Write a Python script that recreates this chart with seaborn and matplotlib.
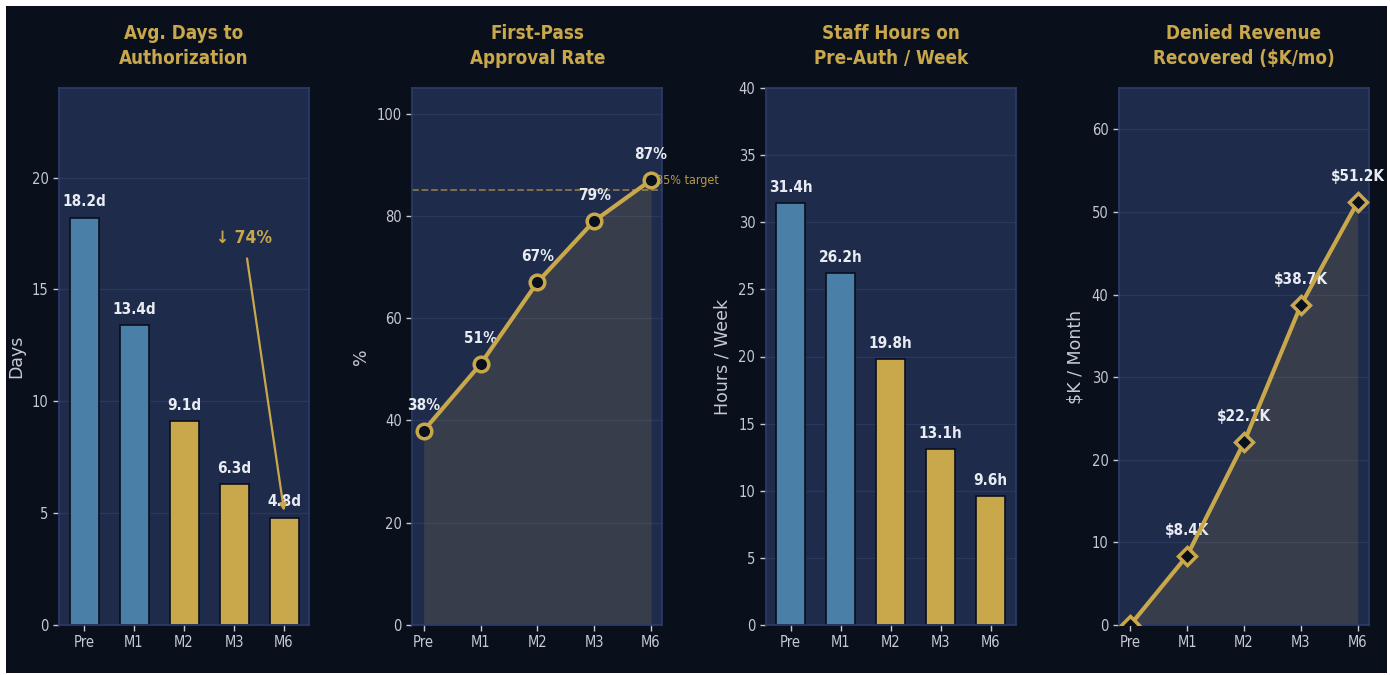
import matplotlib
matplotlib.use('Agg')
import matplotlib.pyplot as plt
import seaborn as sns
import numpy as np
import pandas as pd
from matplotlib.patches import Rectangle

# DATA
periods = ['Pre', 'M1', 'M2', 'M3', 'M6']
days_to_auth = [18.2, 13.4, 9.1, 6.3, 4.8]
approval_rate = [38, 51, 67, 79, 87]
staff_hours = [31.4, 26.2, 19.8, 13.1, 9.6]
revenue_recovered = [0.0, 8.4, 22.1, 38.7, 51.2]
approval_target = 85
days_drop_label = '↓ 74%'

titles = ['Avg. Days to\nAuthorization', 'First-Pass\nApproval Rate',
          'Staff Hours on\nPre-Auth / Week', 'Denied Revenue\nRecovered ($K/mo)']
ylabels = ['Days', '%', 'Hours / Week', '$K / Month']
ylims = [24, 105, 40, 65]

# STYLE
BG = '#0a0f1c'
PANEL = '#1f2b4b'
SPINE = '#2b3c6a'
GRID = '#2a385e'
GOLD = '#c9a84c'
BLUE = '#4a7fa7'
TXT = '#e8ecf2'
TICK = '#c4cad4'

sns.set_theme(style='dark')
plt.rcParams['font.family'] = ['DejaVu Sans']
plt.rcParams['font.stretch'] = 'condensed'

fig, axes = plt.subplots(1, 4, figsize=(13.9, 6.75), dpi=100)
fig.patch.set_facecolor('white')
fig.patches.append(Rectangle((6 / 1390, 2 / 675), 1 - 9 / 1390, 1 - 8 / 675,
                             transform=fig.transFigure, facecolor=BG,
                             edgecolor='none', zorder=-10))
fig.subplots_adjust(left=59 / 1390, right=1369 / 1390, top=1 - 88 / 675,
                    bottom=1 - 625 / 675, wspace=0.413)

bar_colors = [BLUE, BLUE, GOLD, GOLD, GOLD]
xpos = np.arange(len(periods))


def style_axis(ax, i):
    ax.set_facecolor(PANEL)
    for s in ax.spines.values():
        s.set_visible(True)
        s.set_color(SPINE)
        s.set_linewidth(1.2)
    ax.grid(axis='y', color=GRID, linewidth=0.9)
    ax.grid(axis='x', visible=False)
    ax.set_axisbelow(True)
    ax.tick_params(colors=TICK, labelsize=10.5, length=4, width=1,
                   bottom=True, left=True)
    ax.set_title(titles[i], color=GOLD, fontsize=13.5, fontweight='bold',
                 pad=17, linespacing=1.4)
    ax.set_ylabel(ylabels[i], color=TICK, fontsize=12.5, fontstretch='normal',
                  labelpad=5)
    ax.set_xlabel('')
    ax.set_ylim(0, ylims[i])


def bar_panel(ax, values, suffix, i):
    df = pd.DataFrame({'period': periods, 'value': values})
    sns.barplot(data=df, x='period', y='value', hue='period', palette=bar_colors,
                legend=False, width=0.58, edgecolor=BG, linewidth=1.2,
                saturation=1, ax=ax)
    for x, v in zip(xpos, values):
        ax.annotate(f'{v}{suffix}', (x, v), xytext=(0, 6),
                    textcoords='offset points', ha='center', va='bottom',
                    color=TXT, fontsize=11, fontweight='bold')
    style_axis(ax, i)


def line_panel(ax, values, marker, fmt, i, ms):
    df = pd.DataFrame({'x': xpos, 'value': values})
    ax.fill_between(xpos, 0, values, color=GOLD, alpha=0.15, linewidth=0)
    sns.lineplot(data=df, x='x', y='value', color=GOLD, linewidth=3,
                 marker=marker, markersize=ms, markerfacecolor=BG,
                 markeredgecolor=GOLD, markeredgewidth=2.5, ax=ax, zorder=5)
    for x, v in zip(xpos, values):
        if v == 0:
            continue
        ax.annotate(fmt(v), (x, v), xytext=(0, 13),
                    textcoords='offset points', ha='center', va='bottom',
                    color=TXT, fontsize=11, fontweight='bold')
    ax.set_xticks(xpos)
    ax.set_xticklabels(periods)
    ax.set_xlim(-0.2, len(periods) - 0.8)
    style_axis(ax, i)


bar_panel(axes[0], days_to_auth, 'd', 0)
axes[0].set_yticks([0, 5, 10, 15, 20])
axes[0].annotate(days_drop_label, xy=(4, days_to_auth[-1] + 0.3),
                 xytext=(3.2, 17.3), ha='center', va='center',
                 color=GOLD, fontsize=12.5, fontweight='bold',
                 arrowprops=dict(arrowstyle='-|>', color=GOLD, lw=1.6,
                                 mutation_scale=10, shrinkA=6, shrinkB=0))

line_panel(axes[1], approval_rate, 'o', lambda v: f'{v}%', 1, 10.5)
axes[1].axhline(approval_target, color=GOLD, alpha=0.6, linestyle='--',
                linewidth=1.3, zorder=2)
axes[1].text(4.08, approval_target + 2, f'{approval_target}% target',
             color=GOLD, fontsize=9, ha='left', va='center', alpha=0.9)
axes[1].set_yticks([0, 20, 40, 60, 80, 100])

bar_panel(axes[2], staff_hours, 'h', 2)
axes[2].set_yticks([0, 5, 10, 15, 20, 25, 30, 35, 40])

line_panel(axes[3], revenue_recovered, 'D', lambda v: f'${v}K', 3, 9.5)
axes[3].set_yticks([0, 10, 20, 30, 40, 50, 60])

plt.savefig('out.png', dpi=100, facecolor=fig.get_facecolor())
plt.close()
